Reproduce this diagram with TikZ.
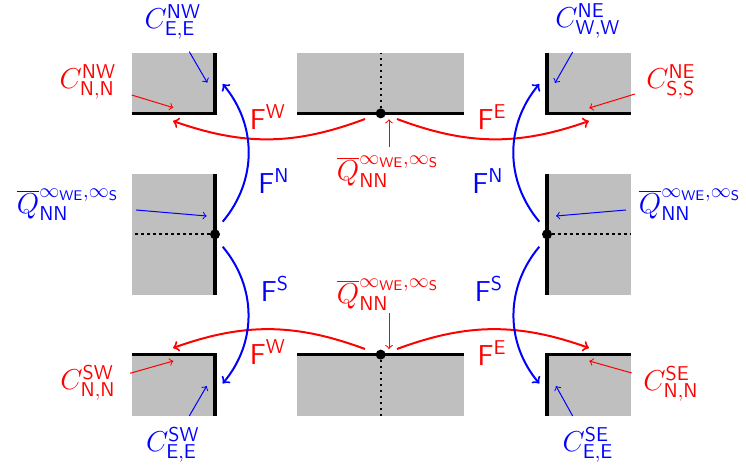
\documentclass[tikz,border=0pt]{standalone}
\begin{document}
\begin{tikzpicture}[x=0.5pt,y=-0.5pt,
  box/.style={fill=lightgray,draw=none},
  wall/.style={line width=1.7pt,line join=miter},
  dotline/.style={line width=1.1pt,dash pattern=on 1.1pt off 1.9pt},
  jdot/.style={circle,fill=black,inner sep=0pt,minimum size=5pt},
  flux/.style={->,line width=1pt},
  note/.style={->,line width=0.5pt},
  lab/.style={inner sep=0pt,font=\Large},
  red/.style={color=red},
  blue/.style={color=blue}]
\useasboundingbox (0,0) rectangle (746,470);
% boxes
\fill[lightgray] (131.7,52.7) rectangle (216.7,115);
\fill[lightgray] (297.3,52.7) rectangle (464,115);
\fill[lightgray] (545.3,52.7) rectangle (631,115);
\fill[lightgray] (131.7,174) rectangle (216.7,295);
\fill[lightgray] (545.3,174) rectangle (631,295);
\fill[lightgray] (131.7,353) rectangle (216.7,415.7);
\fill[lightgray] (297.3,353) rectangle (464,415.7);
\fill[lightgray] (545.3,353) rectangle (631,415.7);
% walls
\draw[wall] (131.7,113.4) -- (215,113.4) -- (215,52.7);
\draw[wall] (297.3,113.4) -- (464,113.4);
\draw[wall] (547,52.7) -- (547,113.4) -- (631,113.4);
\draw[wall] (215,174) -- (215,295);
\draw[wall] (547,174) -- (547,295);
\draw[wall] (131.7,354.6) -- (215,354.6) -- (215,415.7);
\draw[wall] (297.3,354.6) -- (464,354.6);
\draw[wall] (631,354.6) -- (547,354.6) -- (547,415.7);
% junction dots
\node[jdot] (dTM) at (380.7,113.4) {};
\node[jdot] (dML) at (215,234.3) {};
\node[jdot] (dMR) at (547,234.3) {};
\node[jdot] (dBM) at (380.7,354.6) {};
\coordinate (tTM) at (380.7,52.7);
\coordinate (tML) at (131.7,234.3);
\coordinate (tMR) at (631,234.3);
\coordinate (tBM) at (380.7,415.7);
\draw[dotline] (dTM) -- (tTM);
\draw[dotline] (dML) -- (tML);
\draw[dotline] (dMR) -- (tMR);
\draw[dotline] (dBM) -- (tBM);
% flux arrow end points
\coordinate (fwTs) at (365,119);   \coordinate (fwTe) at (173,121);
\coordinate (feTs) at (397,119);   \coordinate (feTe) at (589,121);
\coordinate (fnLs) at (222.7,221.7); \coordinate (fnLe) at (222.7,84);
\coordinate (fsLs) at (222.7,246.7); \coordinate (fsLe) at (222.7,383.5);
\coordinate (fnRs) at (539.3,221.7); \coordinate (fnRe) at (539.3,84);
\coordinate (fsRs) at (539.3,246.7); \coordinate (fsRe) at (539.3,383.5);
\coordinate (fwBs) at (365,349);   \coordinate (fwBe) at (173,348);
\coordinate (feBs) at (397,349);   \coordinate (feBe) at (589,348);
\draw[flux,red] (fwTs) to[bend left=20] (fwTe);
\draw[flux,red] (feTs) to[bend right=20] (feTe);
\draw[flux,red] (fwBs) to[bend right=20] (fwBe);
\draw[flux,red] (feBs) to[bend left=20] (feBe);
\draw[flux,blue] (fnLs) to[bend right=40] (fnLe);
\draw[flux,blue] (fsLs) to[bend left=40] (fsLe);
\draw[flux,blue] (fnRs) to[bend left=40] (fnRe);
\draw[flux,blue] (fsRs) to[bend right=40] (fsRe);
% flux labels
\node[lab,red]  (FWT) at (268,117) {$\mathsf{F}^{\mathsf{W}}$};
\node[lab,red]  (FET) at (492,117) {$\mathsf{F}^{\mathsf{E}}$};
\node[lab,blue] (FNL) at (274,181) {$\mathsf{F}^{\mathsf{N}}$};
\node[lab,blue] (FNR) at (488,181) {$\mathsf{F}^{\mathsf{N}}$};
\node[lab,blue] (FSL) at (275,289) {$\mathsf{F}^{\mathsf{S}}$};
\node[lab,blue] (FSR) at (489,289) {$\mathsf{F}^{\mathsf{S}}$};
\node[lab,red]  (FWB) at (268,352) {$\mathsf{F}^{\mathsf{W}}$};
\node[lab,red]  (FEB) at (492,353) {$\mathsf{F}^{\mathsf{E}}$};
% annotation labels
\node[lab,blue] (lNWE) at (173,22) {$C^{\mathsf{NW}}_{\mathsf{E,E}}$};
\node[lab,red]  (lNWN) at (88,82) {$C^{\mathsf{NW}}_{\mathsf{N,N}}$};
\node[lab,blue] (lNEW) at (588,21) {$C^{\mathsf{NE}}_{\mathsf{W,W}}$};
\node[lab,red]  (lNES) at (671,82) {$C^{\mathsf{NE}}_{\mathsf{S,S}}$};
\node[lab,red]  (lQT) at (388,172) {$\overline{Q}^{\infty_{\mathsf{WE}},\infty_{\mathsf{S}}}_{\mathsf{NN}}$};
\node[lab,blue] (lQL) at (68,205) {$\overline{Q}^{\infty_{\mathsf{WE}},\infty_{\mathsf{S}}}_{\mathsf{NN}}$};
\node[lab,blue] (lQR) at (690,205) {$\overline{Q}^{\infty_{\mathsf{WE}},\infty_{\mathsf{S}}}_{\mathsf{NN}}$};
\node[lab,red]  (lQB) at (388,295) {$\overline{Q}^{\infty_{\mathsf{WE}},\infty_{\mathsf{S}}}_{\mathsf{NN}}$};
\node[lab,red]  (lSWN) at (88,383) {$C^{\mathsf{SW}}_{\mathsf{N,N}}$};
\node[lab,blue] (lSWE) at (173,445) {$C^{\mathsf{SW}}_{\mathsf{E,E}}$};
\node[lab,red]  (lSEN) at (671,384) {$C^{\mathsf{SE}}_{\mathsf{N,N}}$};
\node[lab,blue] (lSEE) at (588,445) {$C^{\mathsf{SE}}_{\mathsf{E,E}}$};
% annotation arrows
\coordinate (a1s) at (189.3,51.7);  \coordinate (a1e) at (207.3,82.7);
\coordinate (a2s) at (131.7,95);    \coordinate (a2e) at (173.3,107.7);
\coordinate (a3s) at (572.7,52);    \coordinate (a3e) at (555,83);
\coordinate (a4s) at (635,94);      \coordinate (a4e) at (589.3,108);
\coordinate (a5s) at (389,146.7);   \coordinate (a5e) at (389,119.3);
\coordinate (a6s) at (136,210);     \coordinate (a6e) at (206.7,216);
\coordinate (a7s) at (626,210);     \coordinate (a7e) at (556,216);
\coordinate (a8s) at (389,313);     \coordinate (a8e) at (389,349);
\coordinate (a9s) at (130,373.3);   \coordinate (a9e) at (173.3,361);
\coordinate (a10s) at (189.3,416);  \coordinate (a10e) at (206.7,386);
\coordinate (a11s) at (631.7,373);  \coordinate (a11e) at (589.3,361);
\coordinate (a12s) at (572.7,416);  \coordinate (a12e) at (556,386);
\draw[note,blue] (a1s) -- (a1e);
\draw[note,red]  (a2s) -- (a2e);
\draw[note,blue] (a3s) -- (a3e);
\draw[note,red]  (a4s) -- (a4e);
\draw[note,red]  (a5s) -- (a5e);
\draw[note,blue] (a6s) -- (a6e);
\draw[note,blue] (a7s) -- (a7e);
\draw[note,red]  (a8s) -- (a8e);
\draw[note,red]  (a9s) -- (a9e);
\draw[note,blue] (a10s) -- (a10e);
\draw[note,red]  (a11s) -- (a11e);
\draw[note,blue] (a12s) -- (a12e);
\end{tikzpicture}
\end{document}
